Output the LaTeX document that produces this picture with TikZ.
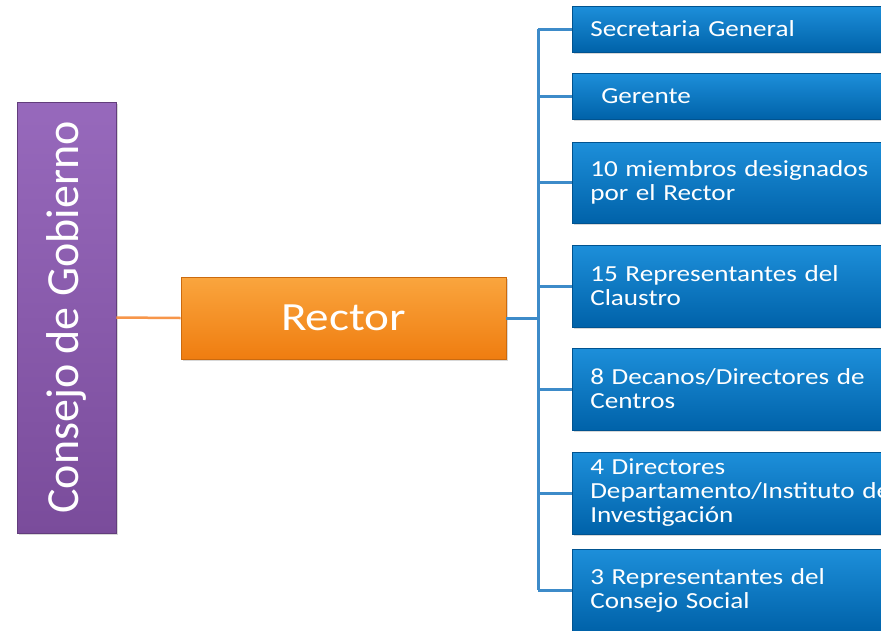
\documentclass[tikz,border=0pt]{standalone}
\usepackage{fontspec}
\setmainfont{Carlito}
\newfontfamily\widefont{Carlito}[FakeStretch=1.18]
\usetikzlibrary{shadows}
\definecolor{consejotop}{HTML}{9769BC}
\definecolor{consejobot}{HTML}{7A4C9B}
\definecolor{rectortop}{HTML}{FAA53E}
\definecolor{rectorbot}{HTML}{EF7D10}
\definecolor{miembrotop}{HTML}{1D8FDA}
\definecolor{miembrobot}{HTML}{0062A9}
\definecolor{bluelink}{HTML}{3D8BC9}
\definecolor{orangelink}{HTML}{F7964A}
\tikzset{
  boxshadow/.style={drop shadow={opacity=0.3,shadow xshift=2pt,shadow yshift=-2pt}},
  consejo/.style={rectangle, rotate=90, minimum width=431pt, minimum height=99pt,
    top color=consejotop, bottom color=consejobot, draw=consejobot!80!black, line width=0.6pt,
    text=white, font=\fontsize{46}{50}\selectfont, boxshadow},
  rector/.style={rectangle, minimum width=325pt, minimum height=82pt,
    top color=rectortop, bottom color=rectorbot, draw=rectorbot!85!black, line width=0.6pt,
    text=white, font=\widefont\fontsize{40}{44}\selectfont, boxshadow},
  miembro/.style={rectangle, anchor=west, text width=300pt, inner xsep=18pt, inner ysep=2pt,
    align=left, top color=miembrotop, bottom color=miembrobot, draw=miembrobot!85!black, line width=0.6pt,
    text=white, font=\widefont\fontsize{23}{24}\selectfont, boxshadow},
  bluelinea/.style={draw=bluelink, line width=3pt},
  orangelinea/.style={draw=orangelink, line width=2.5pt}
}
\begin{document}
\begin{tikzpicture}[x=1pt, y=-1pt]
    \clip (0,0) rectangle (881,630);
    \fill[white] (0,0) rectangle (881,630);

    \node[consejo] (C) at (66.5,317.5) {Consejo de Gobierno};
    \node[rector] (R) at (343.5,318) {Rector};

    \node[miembro, minimum height=46pt] (M1) at (572,29) {Secretaria General};
    \node[miembro, minimum height=46pt] (M2) at (572,96) {\hspace*{11pt}Gerente};
    \node[miembro, minimum height=81pt] (M3) at (572,182.5) {10 miembros designados\\por el Rector};
    \node[miembro, minimum height=82pt] (M4) at (572,286) {15 Representantes del\\Claustro};
    \node[miembro, minimum height=82pt] (M5) at (572,389) {8 Decanos/Directores de\\Centros};
    \node[miembro, minimum height=82pt] (M6) at (572,493) {4 Directores\\Departamento/Instituto de\\Investigación};
    \node[miembro, minimum height=82pt] (M7) at (572,590) {3 Representantes del\\Consejo Social};

    \coordinate (T) at (538,0);

    \path[orangelinea] (C.south) -- (R.west);
    \path[bluelinea]
        (R.east) -- (R.east -| T)
        (T |- M1.west) -- (T |- M7.west);
    \foreach \m in {M1,M2,M3,M4,M5,M6,M7}
        \path[bluelinea] (T |- \m.west) -- (\m.west);
\end{tikzpicture}
\end{document}
